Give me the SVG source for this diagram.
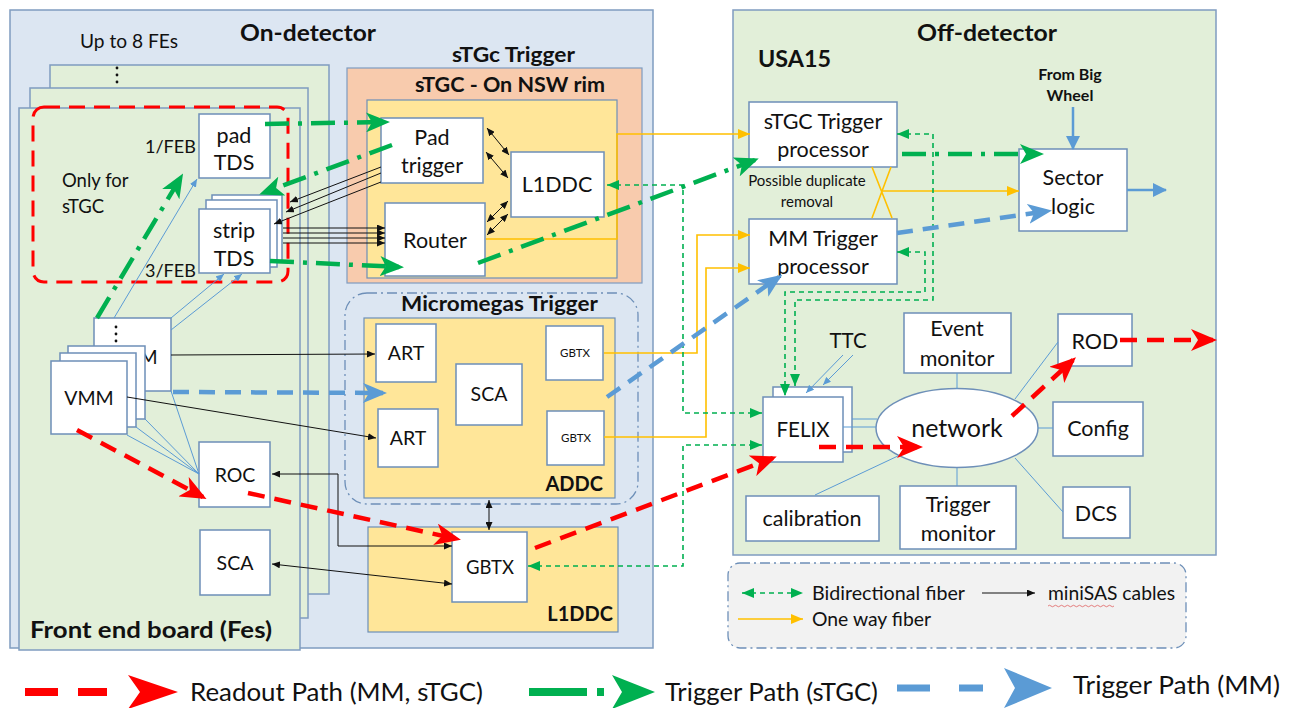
<svg xmlns="http://www.w3.org/2000/svg" width="1297" height="708" viewBox="0 0 1297 708">
  <style>
    text { font-family: Lato, "Liberation Sans", sans-serif; fill: #111; }
    .t20 { font-size: 21.5px; text-anchor: middle; }
    .t18 { font-size: 19.5px; text-anchor: middle; }
    .bold { font-weight: bold; }
    .box { fill: #ffffff; stroke: #6d8fb8; stroke-width: 1.5; }
    .panel { fill: #dce6f2; stroke: #7f9cc0; stroke-width: 1.5; }
    .green { fill: #e2efd9; stroke: #7f9cc0; stroke-width: 1.5; }
    .salmon { fill: #f8cbad; stroke: #7f9cc0; stroke-width: 1.2; }
    .yellow { fill: #ffe699; stroke: #6d8fb8; stroke-width: 1.2; }
    .dashdot { fill: none; stroke: #6d8fb8; stroke-width: 1.3; stroke-dasharray: 10 4 2 4; }
    .red { fill: none; stroke: #ff0000; stroke-width: 4.5; stroke-dasharray: 17 10; marker-end: url(#aRed); }
    .gtrig { fill: none; stroke: #00b050; stroke-width: 4.5; stroke-dasharray: 24 9 4 9; marker-end: url(#aGreen); }
    .btrig { fill: none; stroke: #5b9bd5; stroke-width: 4.5; stroke-dasharray: 16 10; marker-end: url(#aBlue); }
    .bsolid { fill: none; stroke: #5b9bd5; stroke-width: 2.5; marker-end: url(#aBlueS); }
    .thin { fill: none; stroke: #5b9bd5; stroke-width: 1; }
    .thinA { fill: none; stroke: #5b9bd5; stroke-width: 1; marker-end: url(#aThin); }
    .blk { fill: none; stroke: #111; stroke-width: 1; marker-end: url(#aBlack); }
    .blk2 { fill: none; stroke: #111; stroke-width: 1; marker-end: url(#aBlack); marker-start: url(#aBlack); }
    .gfib { fill: none; stroke: #00b050; stroke-width: 1.6; stroke-dasharray: 5 4; marker-end: url(#aGreenS); marker-start: url(#aGreenS); }
    .ofib { fill: none; stroke: #ffc000; stroke-width: 1.6; marker-end: url(#aOrange); }
    .ofibn { fill: none; stroke: #ffc000; stroke-width: 1.6; }
  </style>
  <defs>
    <marker id="aRed" markerUnits="userSpaceOnUse" viewBox="0 0 26 22" markerWidth="26" markerHeight="22" refX="22" refY="11" orient="auto-start-reverse">
      <path d="M0,0 L26,11 L0,22 L7,11 z" fill="#ff0000"/>
    </marker>
    <marker id="aGreen" markerUnits="userSpaceOnUse" viewBox="0 0 24 20" markerWidth="24" markerHeight="20" refX="20" refY="10" orient="auto-start-reverse">
      <path d="M0,0 L24,10 L0,20 L6,10 z" fill="#00b050"/>
    </marker>
    <marker id="aBlue" markerUnits="userSpaceOnUse" viewBox="0 0 24 20" markerWidth="24" markerHeight="20" refX="20" refY="10" orient="auto-start-reverse">
      <path d="M0,0 L24,10 L0,20 L6,10 z" fill="#5b9bd5"/>
    </marker>
    <marker id="aBlueS" markerUnits="userSpaceOnUse" viewBox="0 0 14 14" markerWidth="14" markerHeight="14" refX="13" refY="7" orient="auto">
      <path d="M0,0 L14,7 L0,14 z" fill="#5b9bd5"/>
    </marker>
    <marker id="aThin" markerUnits="userSpaceOnUse" viewBox="0 0 8 7" markerWidth="8" markerHeight="7" refX="8" refY="3.5" orient="auto">
      <path d="M0,0 L8,3.5 L0,7 z" fill="#5b9bd5"/>
    </marker>
    <marker id="aBlack" markerUnits="userSpaceOnUse" viewBox="0 0 8 7" markerWidth="8" markerHeight="7" refX="8" refY="3.5" orient="auto-start-reverse">
      <path d="M0,0 L8,3.5 L0,7 z" fill="#111"/>
    </marker>
    <marker id="aGreenS" markerUnits="userSpaceOnUse" viewBox="0 0 12 10" markerWidth="12" markerHeight="10" refX="12" refY="5" orient="auto-start-reverse">
      <path d="M0,0 L12,5 L0,10 z" fill="#00b050"/>
    </marker>
    <marker id="aOrange" markerUnits="userSpaceOnUse" viewBox="0 0 12 10" markerWidth="12" markerHeight="10" refX="12" refY="5" orient="auto">
      <path d="M0,0 L12,5 L0,10 z" fill="#ffc000"/>
    </marker>
  </defs>

  <rect width="1297" height="708" fill="#ffffff"/>

  <!-- On-detector area -->
  <g id="on-detector">
    <rect class="panel" x="10" y="10" width="643" height="638"/>
    <text x="240" y="41" class="bold" font-size="23" textLength="136" lengthAdjust="spacingAndGlyphs">On-detector</text>
  </g>

  <!-- Front end boards stack -->
  <g id="front-end-boards">
    <rect class="green" x="50" y="65" width="279" height="529"/>
    <rect class="green" x="30" y="88" width="278" height="530"/>
    <rect class="green" x="19" y="108" width="281" height="542"/>
    <text x="80" y="48" font-size="18.5" textLength="98" lengthAdjust="spacingAndGlyphs">Up to 8 FEs</text>
    <circle cx="117" cy="68" r="1.4" fill="#111"/>
    <circle cx="117" cy="75" r="1.4" fill="#111"/>
    <circle cx="117" cy="82" r="1.4" fill="#111"/>
    <text x="30" y="638" class="bold" font-size="22.5" textLength="242" lengthAdjust="spacingAndGlyphs">Front end board (Fes)</text>
  </g>

  <g id="stgc-only-region">
    <rect x="33" y="107" width="255" height="175" rx="11" fill="none" stroke="#ff0000" stroke-width="3" stroke-dasharray="16 9"/>
    <text x="62" y="187" font-size="18.5">Only for</text>
    <text x="62" y="213" font-size="18.5">sTGC</text>
    <text x="145" y="153" font-size="18">1/FEB</text>
    <text x="145" y="277" font-size="18">3/FEB</text>
  </g>

  <g id="pad-tds">
    <rect class="box" x="199" y="114" width="71" height="64"/>
    <text class="t20" x="234" y="143">pad</text>
    <text class="t20" x="234" y="170">TDS</text>
  </g>

  <g id="strip-tds">
    <rect class="box" x="212" y="195" width="70" height="66"/>
    <rect class="box" x="206" y="200" width="71" height="67"/>
    <rect class="box" x="199" y="209" width="71" height="64"/>
    <text class="t20" x="234" y="238">strip</text>
    <text class="t20" x="234" y="266">TDS</text>
  </g>

  <g id="vmm">
    <rect class="box" x="94" y="318" width="77" height="73"/>
    <circle cx="116" cy="327" r="1.4" fill="#111"/>
    <circle cx="116" cy="334" r="1.4" fill="#111"/>
    <circle cx="116" cy="341" r="1.4" fill="#111"/>
    <text x="133" y="364" font-size="19.5" text-anchor="middle">VMM</text>
    <rect class="box" x="68" y="346" width="77" height="73"/>
    <rect class="box" x="60" y="353" width="76" height="74"/>
    <rect class="box" x="51" y="361" width="76" height="73"/>
    <text x="89" y="405" font-size="19.5" text-anchor="middle">VMM</text>
  </g>

  <g id="roc">
    <rect class="box" x="199" y="442" width="71" height="65"/>
    <text class="t18" x="235" y="482">ROC</text>
  </g>

  <g id="fe-sca">
    <rect class="box" x="200" y="530" width="70" height="65"/>
    <text class="t18" x="235" y="570">SCA</text>
  </g>

  <!-- sTGC trigger on the NSW rim -->
  <g id="stgc-trigger">
    <text x="452" y="62" class="bold" font-size="20" textLength="123" lengthAdjust="spacingAndGlyphs">sTGc Trigger</text>
    <rect class="salmon" x="347" y="68" width="295" height="215"/>
    <text x="415" y="92" class="bold" font-size="20.5" textLength="190" lengthAdjust="spacingAndGlyphs">sTGC - On NSW rim</text>
    <rect class="yellow" x="367" y="100" width="250" height="178"/>
  </g>

  <g id="pad-trigger">
    <rect class="box" x="381" y="118" width="102" height="65"/>
    <text class="t20" x="432" y="145">Pad</text>
    <text class="t20" x="432" y="173">trigger</text>
  </g>

  <g id="router">
    <rect class="box" x="385" y="203" width="100" height="73"/>
    <text class="t20" x="435" y="248">Router</text>
  </g>

  <g id="l1ddc-stgc">
    <rect class="box" x="511" y="152" width="93" height="65"/>
    <text class="t20" x="557" y="192">L1DDC</text>
  </g>

  <!-- Micromegas trigger -->
  <g id="micromegas-trigger">
    <rect class="dashdot" x="345" y="293" width="293" height="211" rx="22"/>
    <rect class="yellow" x="364" y="318" width="251" height="180"/>
    <text x="401" y="311" class="bold" font-size="20.5" textLength="197" lengthAdjust="spacingAndGlyphs">Micromegas Trigger</text>
    <text x="603" y="491" class="bold" font-size="20" text-anchor="end">ADDC</text>
  </g>

  <g id="art-1">
    <rect class="box" x="376" y="324" width="60" height="58"/>
    <text class="t18" x="406" y="360">ART</text>
  </g>
  <g id="art-2">
    <rect class="box" x="378" y="409" width="60" height="58"/>
    <text class="t18" x="408" y="445">ART</text>
  </g>
  <g id="addc-sca">
    <rect class="box" x="456" y="364" width="66" height="61"/>
    <text class="t18" x="489" y="401">SCA</text>
  </g>
  <g id="addc-gbtx-1">
    <rect class="box" x="546" y="326" width="57" height="54"/>
    <text x="575" y="357" font-size="11.5" text-anchor="middle">GBTX</text>
  </g>
  <g id="addc-gbtx-2">
    <rect class="box" x="547" y="411" width="57" height="54"/>
    <text x="576" y="442" font-size="11.5" text-anchor="middle">GBTX</text>
  </g>

  <g id="l1ddc-mm">
    <rect class="yellow" x="368" y="527" width="250" height="105"/>
    <text x="613" y="621" class="bold" font-size="20" text-anchor="end">L1DDC</text>
  </g>
  <g id="l1ddc-gbtx">
    <rect class="box" x="452" y="532" width="75" height="70"/>
    <text x="490" y="574" font-size="18.5" text-anchor="middle">GBTX</text>
  </g>

  <!-- Off-detector area -->
  <g id="off-detector">
    <rect class="green" x="733" y="10" width="483" height="545"/>
    <text x="917" y="41" class="bold" font-size="23" textLength="140" lengthAdjust="spacingAndGlyphs">Off-detector</text>
    <text x="758" y="67" class="bold" font-size="22" textLength="73" lengthAdjust="spacingAndGlyphs">USA15</text>
    <text x="1070" y="80" class="bold" font-size="16" text-anchor="middle">From Big</text>
    <text x="1070" y="101" class="bold" font-size="16" text-anchor="middle">Wheel</text>
    <text x="807" y="186" font-size="15" text-anchor="middle">Possible duplicate</text>
    <text x="807" y="207" font-size="15" text-anchor="middle">removal</text>
    <text x="848" y="348" font-size="20.5" text-anchor="middle">TTC</text>
  </g>

  <g id="stgc-trigger-processor">
    <rect class="box" x="749" y="102" width="148" height="65"/>
    <text class="t20" x="823" y="129">sTGC Trigger</text>
    <text class="t20" x="823" y="157">processor</text>
  </g>
  <g id="mm-trigger-processor">
    <rect class="box" x="749" y="219" width="148" height="65"/>
    <text class="t20" x="823" y="246">MM Trigger</text>
    <text class="t20" x="823" y="274">processor</text>
  </g>
  <g id="sector-logic">
    <rect class="box" x="1019" y="149" width="108" height="82"/>
    <text class="t20" x="1073" y="185" font-size="22.5">Sector</text>
    <text class="t20" x="1073" y="214" font-size="22.5">logic</text>
  </g>

  <g id="felix">
    <rect class="box" x="773" y="387" width="79" height="65"/>
    <rect class="box" x="763" y="397" width="80" height="65"/>
    <text x="803" y="437" font-size="20.5" text-anchor="middle">FELIX</text>
  </g>
  <g id="network">
    <ellipse cx="957" cy="428" rx="81" ry="39.5" fill="#ffffff" stroke="#6d8fb8" stroke-width="1.5"/>
    <text x="957" y="437" font-size="25" text-anchor="middle">network</text>
  </g>
  <g id="event-monitor">
    <rect class="box" x="904" y="313" width="107" height="60"/>
    <text class="t20" x="957" y="336">Event</text>
    <text class="t20" x="957" y="366">monitor</text>
  </g>
  <g id="rod">
    <rect class="box" x="1058" y="314" width="74" height="52"/>
    <text class="t20" x="1095" y="349">ROD</text>
  </g>
  <g id="config">
    <rect class="box" x="1053" y="402" width="90" height="54"/>
    <text class="t20" x="1098" y="436">Config</text>
  </g>
  <g id="dcs">
    <rect class="box" x="1063" y="487" width="67" height="51"/>
    <text class="t20" x="1096" y="521">DCS</text>
  </g>
  <g id="trigger-monitor">
    <rect class="box" x="900" y="486" width="116" height="63"/>
    <text class="t20" x="958" y="512">Trigger</text>
    <text class="t20" x="958" y="541">monitor</text>
  </g>
  <g id="calibration">
    <rect class="box" x="746" y="496" width="133" height="45"/>
    <text class="t20" x="812" y="526">calibration</text>
  </g>

  <!-- Connectors -->
  <g id="connectors">
    <!-- thin blue VMM links -->
    <path class="thinA" d="M114,318 L197,179"/>
    <path class="thinA" d="M171,318 L224,274"/>
    <path class="thinA" d="M171,330 L242,274"/>
    <path class="thin" d="M127,435 L199,474 M136,427 L199,474 M145,419 L199,474 M171,391 L199,474"/>

    <!-- miniSAS cables -->
    <path class="blk" d="M171,355 L375,354"/>
    <path class="blk" d="M127,397 L376,438"/>
    <path class="blk2" d="M452,546 H338 V474 H272"/>
    <path class="blk2" d="M272,564 L452,584"/>
    <path class="blk" d="M381,167 L290,202"/>
    <path class="blk" d="M381,173 L286,212"/>
    <path class="blk" d="M381,182 L274,224"/>
    <path class="blk" d="M283,228 H385"/>
    <path class="blk" d="M283,233 H385"/>
    <path class="blk" d="M283,238 H385"/>
    <path class="blk" d="M283,243 H385"/>
    <path class="blk2" d="M487,128 L509,155"/>
    <path class="blk2" d="M486,152 L508,178"/>
    <path class="blk2" d="M487,222 L508,201"/>
    <path class="blk2" d="M487,235 L508,214"/>
    <path class="blk2" d="M489,500 V530"/>

    <!-- one way fibers -->
    <path class="ofib" d="M486,239 H617 V134 H750"/>
    <path class="ofib" d="M604,353 H697 V235 H750"/>
    <path class="ofib" d="M604,437 H706 V268 H750"/>
    <path class="ofibn" d="M872,167 L892,218 M891,167 L872,218"/>
    <path class="ofib" d="M882,191 H1019"/>

    <!-- bidirectional fibers -->
    <path class="gfib" d="M607,185 H683 V413 H762"/>
    <path class="gfib" d="M528,566 H683 V445 H762"/>
    <path class="gfib" d="M897,134 H933 V300 H795 V386"/>
    <path class="gfib" d="M897,252 H925 V292 H785 V396"/>

    <!-- network links -->
    <path class="thin" d="M957,389 V373 M957,468 V486 M1038,428 H1053 M1015,399 L1058,342 M1015,458 L1063,512 M815,495 L900,455 M852,419 H877 M843,427 H876"/>
    <path class="thinA" d="M843,355 L806,393"/>
    <path class="thinA" d="M853,355 L823,385"/>

    <!-- sTGC trigger path -->
    <path class="gtrig" d="M265,124 L386,122"/>
    <path class="gtrig" d="M392,145 L263,193"/>
    <path class="gtrig" d="M270,261 L400,267"/>
    <path class="gtrig" d="M97,318 L181,177"/>
    <path class="gtrig" d="M478,263 L755,160"/>
    <path class="gtrig" d="M902,154 L1040,154"/>

    <!-- MM trigger path -->
    <path class="btrig" d="M173,392 L383,393"/>
    <path class="btrig" d="M607,397 L779,277"/>
    <path class="btrig" d="M897,233 L1048,211"/>
    <path class="bsolid" d="M1073,107 V149"/>
    <path class="bsolid" d="M1127,190 H1166"/>

    <!-- readout path -->
    <path class="red" d="M77,430 L203,497"/>
    <path class="red" d="M248,493 L457,539"/>
    <path class="red" d="M535,548 L773,458"/>
    <path class="red" d="M819,447 L919,447"/>
    <path class="red" d="M1012,416 L1073,360"/>
    <path class="red" d="M1120,340 L1213,340"/>
  </g>

  <!-- Fiber / cable key -->
  <g id="cable-key">
    <rect x="728" y="563" width="458" height="85" rx="12" fill="#f2f2f2" stroke="#6d8fb8" stroke-width="1.3" stroke-dasharray="10 4 2 4"/>
    <path class="gfib" d="M742,593 H803"/>
    <text x="812" y="600" font-size="19" textLength="153" lengthAdjust="spacingAndGlyphs">Bidirectional fiber</text>
    <path class="blk" d="M982,593 H1035"/>
    <text x="1048" y="600" font-size="19" textLength="127" lengthAdjust="spacingAndGlyphs">miniSAS cables</text>
    <path d="M1048,606 q1.5,-1.5 3,0 t3,0 t3,0 t3,0 t3,0 t3,0 t3,0 t3,0 t3,0 t3,0 t3,0 t3,0 t3,0 t3,0 t3,0 t3,0 t3,0 t3,0 t3,0 t3,0 t3,0 t3,0" fill="none" stroke="#e06060" stroke-width="0.8"/>
    <path class="ofib" d="M738,619 H803"/>
    <text x="812" y="626" font-size="19" textLength="119" lengthAdjust="spacingAndGlyphs">One way fiber</text>
  </g>

  <!-- Path key -->
  <g id="path-key">
    <path d="M25,692 H58 M78,692 H107" stroke="#ff0000" stroke-width="8" fill="none"/>
    <path d="M128,675 L178,692 L128,709 L140,692 z" fill="#ff0000"/>
    <text x="190" y="701" font-size="25" textLength="293" lengthAdjust="spacingAndGlyphs">Readout  Path (MM, sTGC)</text>
    <path d="M529,692 H587 M597,692 H604" stroke="#00b050" stroke-width="8" fill="none"/>
    <path d="M612,675 L655,692 L612,709 L622,692 z" fill="#00b050"/>
    <text x="665" y="701" font-size="25" textLength="213" lengthAdjust="spacingAndGlyphs">Trigger Path (sTGC)</text>
    <path d="M897,688 H930 M959,688 H983" stroke="#5b9bd5" stroke-width="7" fill="none"/>
    <path d="M1004,668 L1052,688 L1004,708 L1015,688 z" fill="#5b9bd5"/>
    <text x="1073" y="694" font-size="25" textLength="207" lengthAdjust="spacingAndGlyphs">Trigger  Path (MM)</text>
  </g>
</svg>
